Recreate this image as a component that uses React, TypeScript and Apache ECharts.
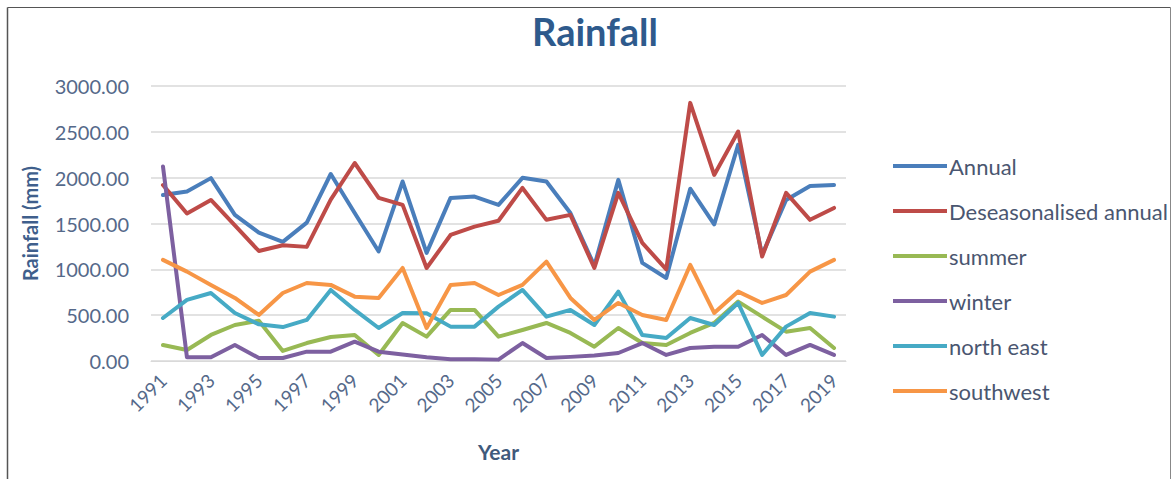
import React, { useEffect, useRef } from "react";
import * as echarts from "echarts";

const years = [
  "1991", "1992", "1993", "1994", "1995", "1996", "1997", "1998", "1999", "2000",
  "2001", "2002", "2003", "2004", "2005", "2006", "2007", "2008", "2009", "2010",
  "2011", "2012", "2013", "2014", "2015", "2016", "2017", "2018", "2019",
];

const annual = [
  1810, 1850, 1995, 1595, 1400, 1300, 1510, 2040, 1615, 1195,
  1958, 1180, 1779, 1794, 1703, 1998, 1958, 1615, 1040, 1976,
  1070, 906, 1880, 1490, 2358, 1160, 1757, 1910, 1921,
];
const deseasonalised = [
  1920, 1610, 1757, 1480, 1200, 1262, 1245, 1760, 2160, 1780,
  1703, 1015, 1375, 1466, 1530, 1888, 1540, 1594, 1015, 1834,
  1288, 1000, 2816, 2030, 2503, 1139, 1834, 1540, 1670,
];
const summer = [
  175, 120, 284, 393, 440, 110, 196, 262, 284, 66,
  415, 266, 557, 557, 266, 338, 415, 306, 156, 360,
  196, 175, 306, 415, 648, 484, 320, 360, 142,
];
const winter = [
  2121, 40, 40, 175, 33, 33, 102, 102, 211, 102,
  70, 40, 20, 20, 15, 196, 33, 45, 60, 87,
  196, 66, 142, 156, 156, 284, 66, 175, 66,
];
const northEast = [
  469, 666, 742, 524, 400, 370, 448, 775, 557, 360,
  524, 520, 375, 375, 593, 775, 484, 557, 393, 757,
  284, 251, 469, 393, 633, 66, 375, 524, 484,
];
const southwest = [
  1103, 975, 830, 688, 502, 742, 851, 830, 702, 688,
  1015, 360, 830, 851, 720, 830, 1084, 688, 448, 633,
  502, 448, 1048, 524, 757, 633, 720, 975, 1103,
];

const seriesNames = [
  "Annual",
  "Deseasonalised annual",
  "summer",
  "winter",
  "north east",
  "southwest",
];
const seriesData = [annual, deseasonalised, summer, winter, northEast, southwest];
const colors = ["#4a7ebb", "#be4b48", "#98b954", "#7d60a0", "#46aac5", "#f79646"];

const font = "Lato, 'Open Sans', sans-serif";

export default function App() {
  const ref = useRef<HTMLDivElement>(null);

  useEffect(() => {
    if (!ref.current) return;
    const chart = echarts.init(ref.current, undefined, { renderer: "svg" });
    chart.setOption({
      animation: false,
      backgroundColor: "#ffffff",
      color: colors,
      title: {
        text: "Rainfall",
        left: 590,
        textAlign: "center",
        top: 7,
        textStyle: {
          fontFamily: font,
          fontSize: 38,
          fontWeight: "bold",
          color: "#2e5a8c",
        },
      },
      legend: {
        orient: "vertical",
        left: 888,
        top: 150,
        icon: "rect",
        itemWidth: 54,
        itemHeight: 4,
        itemGap: 23,
        textStyle: {
          fontFamily: font,
          fontSize: 22,
          color: "#4a5670",
          padding: [0, 0, 0, -3],
        },
        data: seriesNames,
      },
      grid: {
        left: 151,
        right: 327,
        top: 86,
        bottom: 118,
        containLabel: false,
      },
      xAxis: {
        type: "category",
        data: years,
        boundaryGap: true,
        name: "Year",
        nameLocation: "middle",
        nameGap: 80,
        nameTextStyle: {
          fontFamily: font,
          fontSize: 21,
          fontWeight: "bold",
          color: "#3f5a7c",
        },
        axisLine: { show: true, lineStyle: { color: "#d9d9d9", width: 1 } },
        axisTick: { show: false },
        axisLabel: {
          interval: 1,
          rotate: 45,
          margin: 16,
          fontFamily: font,
          fontSize: 19,
          color: "#55698a",
        },
      },
      yAxis: {
        type: "value",
        min: 0,
        max: 3000,
        interval: 500,
        name: "Rainfall (mm)",
        nameLocation: "middle",
        nameGap: 111,
        nameTextStyle: {
          fontFamily: font,
          fontSize: 20,
          fontWeight: "bold",
          color: "#3f5f8c",
        },
        axisLine: { show: false },
        axisTick: { show: false },
        splitLine: { lineStyle: { color: "#d9d9d9", width: 1.5 } },
        axisLabel: {
          margin: 22,
          fontFamily: font,
          fontSize: 20,
          color: "#55698a",
          formatter: (v: number) => v.toFixed(2),
        },
      },
      series: seriesNames.map((name, i) => ({
        name,
        type: "line",
        data: seriesData[i],
        showSymbol: false,
        symbol: "none",
        lineStyle: { width: 4, color: colors[i], join: "round", cap: "round" },
        itemStyle: { color: colors[i] },
        emphasis: { disabled: true },
      })),
      graphic: [
        {
          type: "line",
          shape: { x1: 7.5, y1: 7.5, x2: 7.5, y2: 479 },
          style: { stroke: "#555555", lineWidth: 1.5 },
        },
        {
          type: "line",
          shape: { x1: 7.5, y1: 7.5, x2: 1170.5, y2: 7.5 },
          style: { stroke: "#555555", lineWidth: 1 },
        },
        {
          type: "line",
          shape: { x1: 1170.5, y1: 7.5, x2: 1170.5, y2: 479 },
          style: { stroke: "#888888", lineWidth: 1 },
        },
      ],
    });
    return () => chart.dispose();
  }, []);

  return (
    <div
      ref={ref}
      style={{ position: "fixed", left: 0, top: 0, width: 1173, height: 479 }}
    />
  );
}
